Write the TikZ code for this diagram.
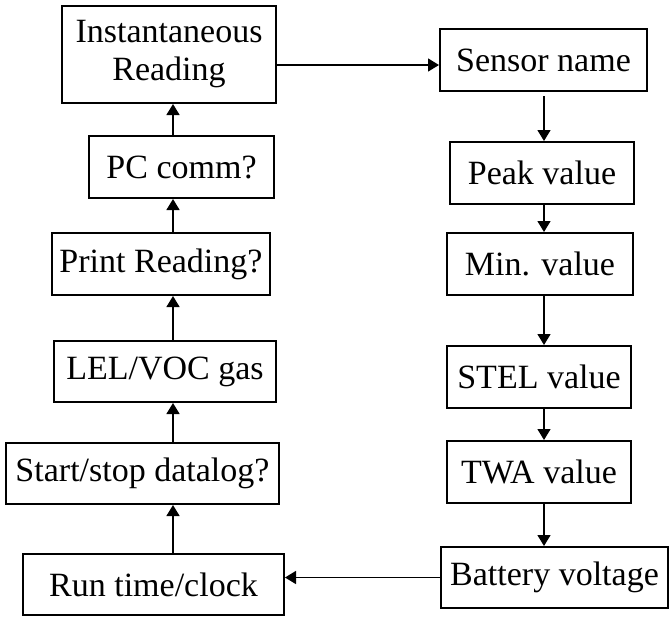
\documentclass[tikz,border=0pt]{standalone}
\usepackage{fontspec}
\setmainfont{Liberation Serif}
\usetikzlibrary{arrows.meta}

\begin{document}
\begin{tikzpicture}[x=0.5pt,y=-0.5pt,
        box/.style={draw,line width=1pt,inner sep=0pt,align=center,
                    font=\fontsize{17}{19}\selectfont},
        arr/.style={line width=0.7pt,-{Triangle[length=5.5pt,width=6.5pt]}}]
        \useasboundingbox (0,0) rectangle (670,617);
        % left column
        \node[box,minimum width=107pt,minimum height=48.5pt](inst)at(169,54.5){Instantaneous\\Reading};
        \node[box,minimum width=92.5pt,minimum height=31pt](pc)at(181.5,167){PC comm?};
        \node[box,minimum width=109pt,minimum height=31pt](print)at(161,264){Print Reading?};
        \node[box,minimum width=111pt,minimum height=30.5pt](lel)at(165,371.5){LEL/VOC gas};
        \node[box,minimum width=136.5pt,minimum height=30.5pt](start)at(142.5,473.5){Start/stop datalog?};
        \node[box,minimum width=130.5pt,minimum height=30.5pt](run)at(153.5,584.5){Run time/clock};
        % right column
        \node[box,minimum width=103.5pt,minimum height=31pt](sensor)at(543.5,60){Sensor name};
        \node[box,minimum width=92pt,minimum height=31pt](peak)at(542,173){Peak value};
        \node[box,minimum width=93pt,minimum height=31pt](min)at(540,264){Min. value};
        \node[box,minimum width=92pt,minimum height=31pt](stel)at(539,377){STEL value};
        \node[box,minimum width=92pt,minimum height=31pt](twa)at(539,472){TWA value};
        \node[box,minimum width=113.5pt,minimum height=30.5pt](batt)at(554.5,577.5){Battery voltage};
        \coordinate(lx)at(173,0);
        \coordinate(rx)at(544,0);
        % connectors
        \draw[arr]([yshift=-2.5pt]inst.east|-sensor.west)--([yshift=-2.5pt]sensor.west);
        \draw[arr]([yshift=-2pt]sensor.south-|rx)--(peak.north-|rx);
        \draw[arr](peak.south-|rx)--(min.north-|rx);
        \draw[arr](min.south-|rx)--(stel.north-|rx);
        \draw[arr](stel.south-|rx)--(twa.north-|rx);
        \draw[arr](twa.south-|rx)--(batt.north-|rx);
        \draw[arr](batt.west)--(batt.west-|run.east);
        \draw[arr](run.north-|lx)--(start.south-|lx);
        \draw[arr](start.north-|lx)--(lel.south-|lx);
        \draw[arr](lel.north-|lx)--(print.south-|lx);
        \draw[arr](print.north-|lx)--(pc.south-|lx);
        \draw[arr](pc.north-|lx)--(inst.south-|lx);
    \end{tikzpicture}
\end{document}
